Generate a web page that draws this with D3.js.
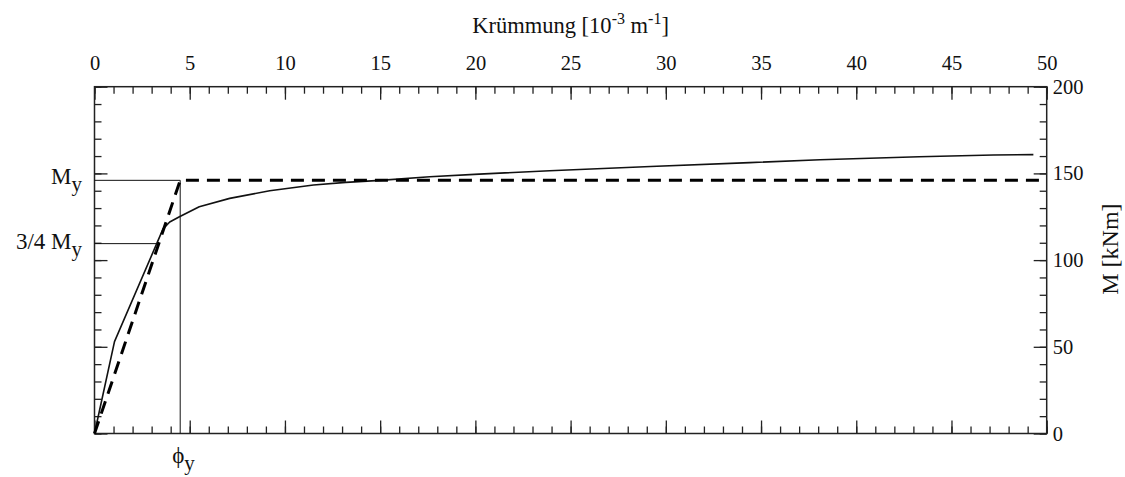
<!DOCTYPE html>
<html>
<head>
<meta charset="utf-8">
<script src="https://cdn.jsdelivr.net/npm/d3@7"></script>
<style>
  html, body { margin: 0; padding: 0; background: #fff; }
  svg { display: block; font-family: "Liberation Serif", "DejaVu Serif", serif; }
  .axis path.domain { display: none; }
  .axis line { stroke: #222; stroke-width: 1.3; }
  .axis text { font-family: "Liberation Serif", serif; font-size: 20.5px; fill: #111; }
</style>
</head>
<body>
<svg id="chart" width="1125" height="477"></svg>
<script>
// Moment–curvature relationship (Krümmung in 1e-3 1/m, moment in kNm)
const curvature = [0, 1.05, 3.6, 3.95, 4.46, 5.5, 7.1, 9.2, 11.5, 13.2, 15.0, 17.6, 20.2, 23.9, 29.2, 34.4, 38.1, 43.3, 47.2, 49.3];
const moment    = [0, 53, 118, 122, 125, 130.8, 135.6, 140, 143.3, 144.8, 146, 148.1, 149.6, 151.5, 154, 156.2, 157.9, 159.6, 160.6, 160.8];

// Idealised bilinear approximation
const phiY = 4.5;     // yield curvature
const momentY = 146;  // yield moment
const bilinearCurv = [0, phiY, 50];
const bilinearMom  = [0, momentY, momentY];

// Axis ticks
const xMajorTicks = [0, 5, 10, 15, 20, 25, 30, 35, 40, 45, 50];
const xMinorTicks = d3.range(0, 51, 1);
const yMajorTicks = [0, 50, 100, 150, 200];
const yMinorTicks = d3.range(0, 201, 10);

const svg = d3.select("#chart");
const x = d3.scaleLinear().domain([0, 50]).range([94.5, 1046.7]);
const y = d3.scaleLinear().domain([0, 200]).range([433.5, 86.7]);

const [x0, x1] = x.range();
const [yb, yt] = y.range();

// Ticks (all pointing into the plot)
function addAxis(gen, tx, ty) {
  svg.append("g").attr("class", "axis").attr("transform", `translate(${tx},${ty})`).call(gen);
}
addAxis(d3.axisTop(x).tickValues(xMinorTicks).tickSize(-7).tickFormat(""), 0, yt);
addAxis(d3.axisTop(x).tickValues(xMajorTicks).tickSize(-13).tickPadding(16.5).tickFormat(d3.format("d")), 0, yt);
addAxis(d3.axisBottom(x).tickValues(xMinorTicks).tickSize(-7).tickFormat(""), 0, yb);
addAxis(d3.axisBottom(x).tickValues(xMajorTicks).tickSize(-13).tickFormat(""), 0, yb);
addAxis(d3.axisLeft(y).tickValues(yMinorTicks).tickSize(-7).tickFormat(""), x0, 0);
addAxis(d3.axisLeft(y).tickValues(yMajorTicks).tickSize(-13).tickFormat(""), x0, 0);
addAxis(d3.axisRight(y).tickValues(yMinorTicks).tickSize(-7).tickFormat(""), x1, 0);
addAxis(d3.axisRight(y).tickValues(yMajorTicks).tickSize(-13).tickPadding(6).tickFormat(d3.format("d")), x1, 0);

// Frame
svg.append("rect")
  .attr("x", x0).attr("y", yt).attr("width", x1 - x0).attr("height", yb - yt)
  .attr("fill", "none").attr("stroke", "#222").attr("stroke-width", 1.5);

// Reference lines for yield point
const ref = svg.append("g").attr("stroke", "#111").attr("stroke-width", 1).attr("fill", "none");
ref.append("line").attr("x1", x(0)).attr("x2", x(phiY)).attr("y1", y(momentY)).attr("y2", y(momentY));
ref.append("line").attr("x1", x(0)).attr("x2", x(0.75 * phiY)).attr("y1", y(0.75 * momentY)).attr("y2", y(0.75 * momentY));
ref.append("line").attr("x1", x(phiY)).attr("x2", x(phiY)).attr("y1", y(0)).attr("y2", y(momentY));

// Measured curve
const line = d3.line().x(d => x(d[0])).y(d => y(d[1]));
svg.append("path")
  .datum(curvature.map((c, i) => [c, moment[i]]))
  .attr("d", line)
  .attr("fill", "none").attr("stroke", "#111").attr("stroke-width", 1.6)
  .attr("stroke-linejoin", "round");

// Bilinear idealisation
svg.append("path")
  .datum(bilinearCurv.map((c, i) => [c, bilinearMom[i]]))
  .attr("d", line)
  .attr("fill", "none").attr("stroke", "#000").attr("stroke-width", 3)
  .attr("stroke-dasharray", "13,8");

// Axis titles
const title = svg.append("text")
  .attr("x", (x0 + x1) / 2).attr("y", 33)
  .attr("text-anchor", "middle").attr("font-size", 22.5).attr("fill", "#111");
title.append("tspan").text("Krümmung [10");
title.append("tspan").attr("font-size", 16).attr("dy", -9).text("-3");
title.append("tspan").attr("dy", 9).text(" m");
title.append("tspan").attr("font-size", 16).attr("dy", -9).text("-1");
title.append("tspan").attr("dy", 9).text("]");

svg.append("text")
  .attr("transform", `translate(1118,${(yt + yb) / 2 - 11}) rotate(-90)`)
  .attr("text-anchor", "middle").attr("font-size", 24).attr("fill", "#111")
  .text("M [kNm]");

// Yield labels
function subLabel(tx, ty, main, sub, anchor) {
  const t = svg.append("text").attr("x", tx).attr("y", ty)
    .attr("text-anchor", anchor).attr("font-size", 23).attr("fill", "#111");
  t.append("tspan").text(main);
  t.append("tspan").attr("dy", 7).attr("font-size", 21).text(sub);
  return t;
}
subLabel(82, y(momentY) + 4, "M", "y", "end");
subLabel(82, y(0.75 * momentY) + 5, "3/4 M", "y", "end");
subLabel(x(phiY) - 8, 463, "\u03D5", "y", "start");
</script>
</body>
</html>
